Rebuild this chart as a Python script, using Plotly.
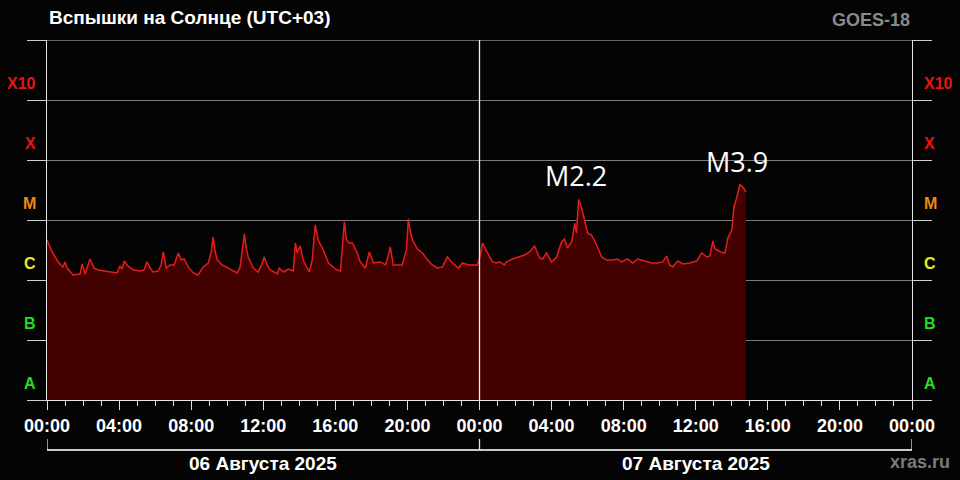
import math
import plotly.graph_objects as go

TITLE = "Вспышки на Солнце (UTC+03)"
SATELLITE = "GOES-18"
SITE = "xras.ru"
DAY_LABELS = ["06 Августа 2025", "07 Августа 2025"]
DAY_CENTERS = ["2025-08-06 12:00", "2025-08-07 12:00"]
DAY_EDGES = ["2025-08-06 00:00", "2025-08-07 00:00", "2025-08-08 00:00"]
CLASS_LABELS = ["A", "B", "C", "M", "X", "X10"]
CLASS_LEVELS = [2e-8, 2e-7, 2e-6, 2e-5, 2e-4, 2e-3]
CLASS_COLORS = ["#22dd22", "#22dd22", "#e8e822", "#ee8811", "#ee1111", "#ee1111"]
DECADES = [1e-8, 1e-7, 1e-6, 1e-5, 1e-4, 1e-3, 1e-2]

TIMES_DAY1 = ["00:00", "00:17", "00:37", "00:53", "01:00", "01:07", "01:27", "01:50", "01:57", "02:07",
              "02:23", "02:37", "02:50", "03:13", "03:37", "03:53", "04:03", "04:10", "04:17", "04:30",
              "04:47", "05:10", "05:23", "05:33", "05:43", "05:53", "06:10", "06:20", "06:27", "06:37",
              "06:50", "07:03", "07:17", "07:27", "07:37", "07:50", "08:07", "08:23", "08:40", "08:57",
              "09:07", "09:13", "09:20", "09:27", "09:43", "10:03", "10:33", "10:43", "10:50", "10:57",
              "11:03", "11:10", "11:27", "11:43", "11:57", "12:03", "12:13", "12:23", "12:47", "12:53",
              "13:07", "13:23", "13:40", "13:47", "13:53", "14:03", "14:13", "14:33", "14:43", "14:53",
              "15:03", "15:20", "15:37", "15:50", "16:00", "16:17", "16:23", "16:30", "16:37", "16:47",
              "16:57", "17:13", "17:23", "17:40", "17:53", "18:07", "18:30", "18:47", "18:57", "19:03",
              "19:13", "19:43", "19:57", "20:03", "20:10", "20:17", "20:33", "20:50", "21:07", "21:23",
              "21:40", "21:57", "22:13", "22:30", "22:50", "23:03", "23:23", "23:53"]
FLUX_DAY1 = [4.64e-6, 2.93e-6, 2.0e-6, 1.65e-6, 2.0e-6, 1.58e-6, 1.21e-6, 1.26e-6, 1.85e-6, 1.26e-6,
             2.24e-6, 1.58e-6, 1.47e-6, 1.41e-6, 1.36e-6, 1.31e-6, 1.71e-6, 1.52e-6, 2.07e-6, 1.71e-6,
             1.47e-6, 1.41e-6, 1.47e-6, 2.0e-6, 1.58e-6, 1.36e-6, 1.41e-6, 1.78e-6, 2.93e-6, 1.58e-6,
             1.78e-6, 1.78e-6, 2.82e-6, 2.15e-6, 2.24e-6, 1.65e-6, 1.31e-6, 1.21e-6, 1.65e-6, 1.92e-6,
             2.93e-6, 5.2e-6, 2.93e-6, 2.15e-6, 1.78e-6, 1.58e-6, 1.31e-6, 1.65e-6, 2.93e-6, 5.85e-6,
             3.41e-6, 2.42e-6, 1.58e-6, 1.36e-6, 1.92e-6, 2.42e-6, 1.78e-6, 1.47e-6, 1.26e-6, 1.58e-6,
             1.36e-6, 1.52e-6, 1.41e-6, 4.14e-6, 2.82e-6, 3.69e-6, 2.15e-6, 1.36e-6, 2.15e-6, 8.25e-6,
             4.64e-6, 3.16e-6, 1.92e-6, 1.65e-6, 1.52e-6, 1.41e-6, 3.16e-6, 9.3e-6, 4.64e-6, 4.14e-6,
             4.14e-6, 2.82e-6, 2.0e-6, 1.58e-6, 2.93e-6, 1.92e-6, 2.0e-6, 1.78e-6, 2.61e-6, 3.55e-6,
             1.78e-6, 1.78e-6, 3.29e-6, 1.04e-5, 6.3e-6, 4.64e-6, 3.29e-6, 2.82e-6, 2.15e-6, 1.78e-6,
             1.58e-6, 1.65e-6, 2.42e-6, 1.92e-6, 1.58e-6, 1.92e-6, 1.78e-6, 1.78e-6]

TIMES_DAY2 = ["00:03", "00:10", "00:27", "00:43", "00:57", "01:07", "01:23", "01:30", "01:50", "02:13",
              "02:30", "02:47", "03:03", "03:20", "03:30", "03:43", "04:00", "04:17", "04:33", "04:43",
              "04:53", "05:07", "05:17", "05:23", "05:30", "05:40", "05:50", "06:00", "06:13", "06:30",
              "06:47", "07:03", "07:23", "07:40", "07:53", "08:13", "08:30", "08:47", "09:10", "09:33",
              "09:53", "10:10", "10:23", "10:33", "10:43", "11:00", "11:17", "11:40", "12:03", "12:20",
              "12:37", "12:47", "12:57", "13:03", "13:10", "13:23", "13:37", "13:47", "14:00", "14:07",
              "14:17", "14:27", "14:37", "14:47"]
FLUX_DAY2 = [2.61e-6, 4.14e-6, 2.82e-6, 2.0e-6, 1.92e-6, 2.0e-6, 1.78e-6, 2.0e-6, 2.24e-6, 2.42e-6,
             2.61e-6, 2.93e-6, 3.69e-6, 2.33e-6, 2.24e-6, 2.82e-6, 2.0e-6, 2.42e-6, 4.3e-6, 4.8e-6,
             3.41e-6, 4.3e-6, 8.9e-6, 6.07e-6, 2.2e-5, 1.58e-5, 1.0e-5, 6.07e-6, 5.62e-6, 3.83e-6,
             2.42e-6, 2.15e-6, 2.15e-6, 2.24e-6, 2.0e-6, 2.24e-6, 1.92e-6, 2.24e-6, 2.07e-6, 1.92e-6,
             1.92e-6, 2.0e-6, 2.51e-6, 1.78e-6, 1.65e-6, 2.07e-6, 1.85e-6, 1.92e-6, 2.07e-6, 2.82e-6,
             2.42e-6, 2.51e-6, 4.47e-6, 3.41e-6, 3.16e-6, 2.93e-6, 2.82e-6, 5.0e-6, 6.8e-6, 1.65e-5,
             2.42e-5, 3.9e-5, 3.55e-5, 2.93e-5]

FLARE_LABELS = ["M2.2", "M3.9"]
FLARE_TIMES = ["2025-08-07 05:30", "2025-08-07 14:27"]
FLARE_FLUX = [2.2e-5, 3.9e-5]

BG = "#040404"

times = ["2025-08-06 " + t for t in TIMES_DAY1] + ["2025-08-07 " + t for t in TIMES_DAY2]
flux = FLUX_DAY1 + FLUX_DAY2
floor = [DECADES[0]] * len(times)

fig = go.Figure()
fig.add_trace(go.Scatter(x=times, y=floor, mode="lines", line=dict(width=0, color="rgba(0,0,0,0)"),
                         hoverinfo="skip", showlegend=False))
fig.add_trace(go.Scatter(x=times, y=flux, mode="lines", fill="tonexty", fillcolor="#420000",
                         line=dict(color="#e41c1c", width=1.5), showlegend=False))

shapes = []
shapes.append(dict(type="line", xref="paper", yref="y", x0=-0.022, x1=1.023, y0=DECADES[-1], y1=DECADES[-1],
                   line=dict(color="#c8c8c8", width=1)))
shapes.append(dict(type="line", xref="x", yref="paper", x0=DAY_EDGES[1], x1=DAY_EDGES[1], y0=0, y1=1,
                   line=dict(color="#f0f0f0", width=1.3)))
shapes.append(dict(type="line", xref="paper", yref="paper", x0=0, x1=1, y0=-0.139, y1=-0.139,
                   line=dict(color="#c8c8c8", width=2)))
for e in DAY_EDGES:
    shapes.append(dict(type="line", xref="x", yref="paper", x0=e, x1=e, y0=-0.139, y1=-0.108,
                       line=dict(color="#e0e0e0", width=1.3)))

annotations = []
for lab, lev, col in zip(CLASS_LABELS, CLASS_LEVELS, CLASS_COLORS):
    for xp, anc in ((-0.0104, "right"), (1.0116, "left")):
        annotations.append(dict(text=lab, xref="paper", yref="y", x=xp, y=math.log10(lev) - 0.02,
                                xanchor=anc, yanchor="middle", showarrow=False,
                                font=dict(family="Liberation Sans, Arial", size=16, color=col, weight="bold")))
for lab, c in zip(DAY_LABELS, DAY_CENTERS):
    annotations.append(dict(text=lab, xref="x", yref="paper", x=c, y=-0.175, xanchor="center",
                            yanchor="middle", showarrow=False,
                            font=dict(family="Liberation Sans, Arial", size=19, color="white", weight="bold")))
for lab, t, f in zip(FLARE_LABELS, FLARE_TIMES, FLARE_FLUX):
    annotations.append(dict(text=lab, xref="x", yref="y", x=t, y=math.log10(f), xanchor="center",
                            yanchor="bottom", yshift=3, xshift=-3, showarrow=False,
                            font=dict(family="Open Sans, DejaVu Sans", size=27, color="white")))
annotations.append(dict(text=TITLE, xref="paper", yref="paper", x=0.0, y=1.0 + 23 / 360, xanchor="left",
                        yanchor="middle", showarrow=False,
                        font=dict(family="Liberation Sans, Arial", size=19, color="white", weight="bold")))
annotations.append(dict(text=SATELLITE, xref="paper", yref="paper", x=1.0, y=1.0 + 20 / 360, xanchor="right",
                        yanchor="middle", showarrow=False,
                        font=dict(family="Liberation Sans, Arial", size=18, color="#8a8a8a", weight="bold")))
annotations.append(dict(text=SITE, xref="paper", yref="paper", x=1.046, y=-0.172, xanchor="right",
                        yanchor="middle", showarrow=False,
                        font=dict(family="Liberation Sans, Arial", size=18, color="#7a7a7a", weight="bold")))

fig.update_layout(
    width=952, height=472,
    margin=dict(l=39, r=48, t=32, b=80, pad=0),
    paper_bgcolor=BG, plot_bgcolor=BG,
    showlegend=False,
    shapes=shapes, annotations=annotations,
    xaxis=dict(type="date", range=[DAY_EDGES[0], DAY_EDGES[2]], tickformat="%H:%M",
               tick0=DAY_EDGES[0], dtick=4 * 3600000, ticks="outside", ticklen=9, tickcolor="#e0e0e0",
               tickwidth=1, showgrid=False, zeroline=False, showline=True, linecolor="#e8e8e8", linewidth=1,
               tickfont=dict(family="Liberation Sans, Arial", size=18, color="white", weight="bold"),
               minor=dict(dtick=3600000, ticks="outside", ticklen=5, tickcolor="#e0e0e0", showgrid=False)),
    yaxis=dict(type="log", range=[-8, -2], tickvals=DECADES, showticklabels=False,
               showgrid=True, gridcolor="#7a7a7a", gridwidth=1, ticks="outside", ticklen=19,
               tickcolor="#d0d0d0", showline=True, linecolor="#e8e8e8", linewidth=1, mirror="ticks",
               zeroline=False),
)

fig.write_html("out.html",
               post_script="document.body.style.background='%s';"
                           "document.documentElement.style.background='%s';" % (BG, BG))
